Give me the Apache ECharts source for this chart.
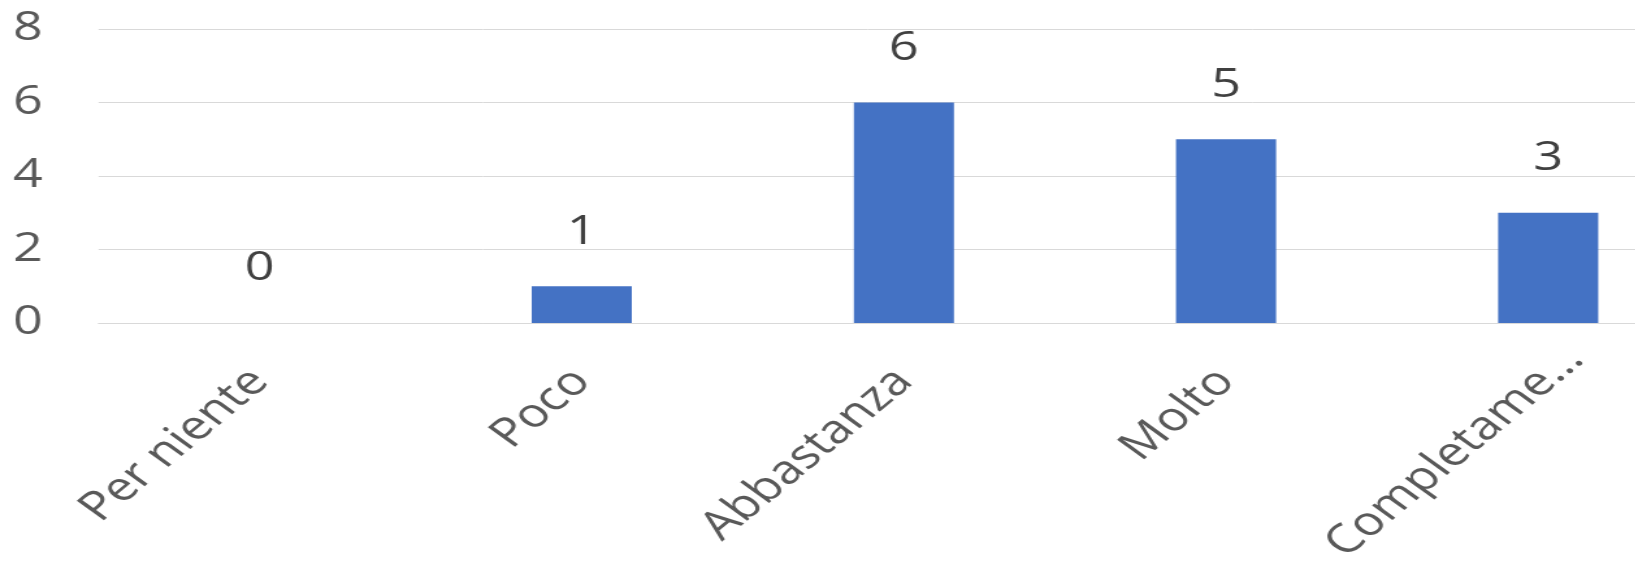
<!DOCTYPE html>
<html>
<head>
<meta charset="utf-8">
<script src="https://cdn.jsdelivr.net/npm/echarts@6/dist/echarts.min.js"></script>
<style>
  html, body { margin: 0; padding: 0; background: #ffffff; overflow: hidden; }
  #wrap { width: 1636px; height: 567px; overflow: hidden; position: relative; }
  #chart { width: 1258px; height: 567px; transform: scaleX(1.3); transform-origin: 0 0; }
</style>
</head>
<body>
<div id="wrap"><div id="chart"></div></div>
<script>
const categories = ['Per niente', 'Poco', 'Abbastanza', 'Molto', 'Completame…'];
const values = [0, 1, 6, 5, 3];
const yTicks = [0, 2, 4, 6, 8];

const chart = echarts.init(document.getElementById('chart'));
const font = '"Open Sans", "Noto Sans", sans-serif';
const axisData = categories.map(function (c, i) {
  return i === categories.length - 1
    ? { value: c, textStyle: { padding: [0, -30, 0, 0] } }
    : c;
});
chart.setOption({
  animation: false,
  grid: { left: 75.8, top: 29, width: 1239, height: 294, containLabel: false, outerBoundsMode: 'none' },
  xAxis: {
    type: 'category',
    data: axisData,
    axisLine: { show: true, lineStyle: { color: '#D9D9D9', width: 1 } },
    axisTick: { show: false },
    axisLabel: {
      interval: 0,
      rotate: 47,
      margin: 52,
      fontSize: 40,
      color: '#595959',
      fontFamily: font
    }
  },
  yAxis: {
    type: 'value',
    min: yTicks[0],
    max: yTicks[yTicks.length - 1],
    interval: 2,
    axisLine: { show: false },
    axisTick: { show: false },
    splitLine: { lineStyle: { color: '#D9D9D9', width: 1 } },
    axisLabel: {
      margin: 43,
      fontSize: 40,
      color: '#595959',
      fontFamily: font
    }
  },
  series: [{
    type: 'bar',
    data: values,
    barWidth: 77,
    itemStyle: { color: '#4472C4' },
    label: {
      show: true,
      position: 'top',
      distance: 34,
      fontSize: 40,
      color: '#404040',
      fontFamily: font
    }
  }]
});
</script>
</body>
</html>
